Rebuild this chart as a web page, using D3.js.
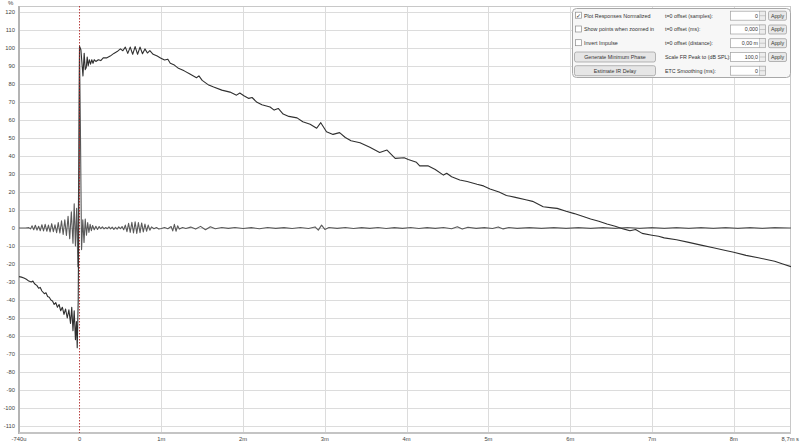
<!DOCTYPE html>
<html><head><meta charset="utf-8">
<script src="https://cdn.jsdelivr.net/npm/d3@7/dist/d3.min.js"></script>
<style>
html,body{margin:0;padding:0;background:#fff;}
svg{display:block;font-family:"Liberation Sans",Arial,sans-serif;}
</style></head><body>
<svg id="c" width="800" height="444"></svg>
<script>
// ---- data ----
const yTicks = [120,110,100,90,80,70,60,50,40,30,20,10,0,-10,-20,-30,-40,-50,-60,-70,-80,-90,-100,-110];
const xTickValues = [-0.74,0,1,2,3,4,5,6,7,8,8.7];
const xTickLabels = ["-740u","0","1m","2m","3m","4m","5m","6m","7m","8m","8,7m s"];

// ETC (dark) series: time in ms, level in %
const etcT = [-0.74,-0.71,-0.68,-0.65,-0.62,-0.59,-0.57,-0.55,-0.52,-0.50,-0.48,-0.46,-0.43,-0.41,-0.39,-0.37,-0.35,-0.33,-0.31,-0.29,-0.27,-0.25,-0.23,-0.21,-0.19,-0.17,-0.15,-0.13,-0.11,-0.095,-0.08,-0.065,-0.05,-0.038,-0.028,-0.016,-0.006,
0.0,0.017,0.042,0.057,0.07,0.082,0.094,0.106,0.12,0.135,0.15,0.165,0.18,0.20,0.23,0.26,0.29,0.33,0.375,0.42,0.46,0.50,0.53,0.56,0.59,0.62,0.65,0.68,0.71,0.74,0.77,0.80,0.83,0.86,0.90,0.95,0.99,
1.04,1.08,1.11,1.16,1.21,1.28,1.35,1.43,1.46,1.50,1.58,1.64,1.74,1.84,1.92,1.96,2.01,2.07,2.11,2.17,2.23,2.33,2.38,2.43,2.49,2.56,2.66,2.73,2.82,2.90,2.95,3.02,3.10,3.18,3.25,3.32,3.43,3.55,3.67,3.76,3.86,3.97,4.02,4.12,4.16,4.26,4.35,4.45,4.49,4.55,4.65,4.74,4.86,4.94,5.02,5.13,5.22,5.33,5.47,5.54,5.67,5.78,5.84,5.95,6.05,6.15,6.25,6.35,6.45,6.55,6.65,6.73,6.80,6.88,7.0,7.08,7.15,7.3,7.45,7.6,7.75,7.9,8.0,8.15,8.3,8.4,8.5,8.6,8.7];
const etcV = [-27,-27.3,-27.8,-28.5,-29.5,-30,-29.5,-31,-32,-33.5,-33,-35,-36.5,-36,-38,-38.5,-40,-40.5,-42.5,-41.5,-44,-42.5,-46,-44,-48,-45,-50,-45.5,-53,-44,-57,-46,-62,-52,-66.5,-40,30,
101,99,84.5,97,88,89,95,90,93.5,91,93.5,91.5,93.5,92.5,93.5,93,94.5,94.5,95.5,97,98,99.5,98.5,100.5,97,100.5,96.5,100.8,96.5,100.5,96.8,99.5,97.2,98.5,96.5,95.5,94.5,
93.3,93.8,91.5,90.5,88.7,87.3,85.5,83.5,84.5,82,79.4,78.3,76.6,75.5,73.8,75,73.5,72,72.5,69.8,68.5,67.2,65.5,66.4,63.3,62,61.2,59,57.6,55.4,58.5,53.5,52,53,50.3,48.5,47.4,44.8,42,43.3,38.7,39,38.1,36.5,34.5,34.6,32.5,29.4,30.4,28.5,26.7,25.8,24.3,23.4,21.7,20,18.1,17,15.6,14.8,11.8,11.2,10.9,9.3,8,6.5,5,3.8,2.2,1,-0.5,-1.5,-0.8,-3,-4,-4.6,-5.5,-6.5,-8,-9.5,-11,-12.5,-13.5,-15.2,-16.5,-17.5,-18.5,-20,-21.5];

// Impulse (grey) series: time in ms, amplitude in %
const impT = [-0.74,-0.70,-0.66,-0.62,-0.60,-0.58,-0.56,-0.54,-0.52,-0.50,-0.48,-0.46,-0.44,-0.42,-0.40,-0.38,-0.36,-0.34,-0.32,-0.30,-0.28,-0.26,-0.24,-0.22,-0.20,-0.18,-0.16,-0.14,-0.12,-0.10,-0.08,-0.065,-0.05,-0.035,-0.02,-0.008,
0.0,0.01,0.025,0.04,0.055,0.07,0.085,0.10,0.115,0.13,0.145,0.16,0.18,0.20,0.22,0.24,0.26,0.28,0.30,0.32,0.34,0.36,0.38,0.40,0.42,0.44,0.46,0.48,0.50,0.52,0.54,0.56,0.58,0.60,0.62,0.64,0.66,0.68,0.70,0.72,0.74,0.76,0.78,0.80,0.82,0.84,0.86,0.88,0.91,0.94,0.97,
1.00,1.04,1.08,1.12,1.14,1.16,1.18,1.20,1.22,1.26,1.30,1.36,1.42,1.48,1.54,1.60,1.66,1.74,1.82,1.90,2.0,2.1,2.2,2.3,2.4,2.5,2.6,2.7,2.8,2.88,2.92,2.96,3.0,3.05,3.15,3.25,3.35,3.45,3.55,3.65,3.75,3.85,3.95,4.05,4.15,4.25,4.35,4.45,4.55,4.62,4.68,4.75,4.85,4.95,5.05,5.12,5.18,5.25,5.35,5.5,5.65,5.8,5.95,6.1,6.25,6.4,6.55,6.7,6.85,7.0,7.15,7.3,7.45,7.6,7.75,7.9,8.05,8.2,8.35,8.5,8.7];
const impV = [0,0,0,0.2,-0.5,1.2,-1.0,1.5,-1.2,1.0,-1.5,1.8,-1.6,2.0,-1.8,1.6,-2.2,2.4,-2.0,1.8,-2.6,3.0,-2.8,4.0,-3.6,4.5,-4.2,6.5,-6.0,9.0,-8.5,13.5,-10,11,-21.5,40,
100,60,-12,4.5,-8,5,-4,3,-2.5,2,-1.5,1.4,-1,1,-0.8,0.8,-0.4,0.6,-0.5,0.3,-0.4,0.6,-0.5,0.5,-0.8,0.4,-0.6,0.6,-0.4,0.8,-1.0,1.6,-2.0,2.6,-2.4,3.2,-2.8,3.4,-3.0,3.0,-2.6,2.8,-2.2,2.2,-1.8,1.6,-1.2,0.6,-0.4,0.3,-0.6,
-0.3,0.3,-0.4,0.8,-1.6,2.0,-1.8,1.2,-0.6,0.3,-0.3,0.5,-0.6,0.9,-1.0,0.7,-0.4,0.3,-0.2,0.3,-0.3,0.2,-0.4,0.3,-0.2,0.2,-0.3,0.3,-0.3,0.6,-1.2,1.6,-0.8,0.3,-0.2,0.3,-0.3,0.2,-0.2,0.3,-0.3,0.2,-0.2,0.3,-0.3,0.2,-0.2,0.3,-0.4,0.7,-0.6,0.4,-0.2,0.2,-0.3,0.6,-0.5,0.3,-0.2,0.2,-0.2,0.2,-0.2,0.2,-0.2,0.2,-0.2,0.3,-0.2,0.2,-0.2,0.2,-0.2,0.2,-0.2,0.2,-0.2,0.2,-0.2,0.2,0];

// control panel texts
const checkLabels = ["Plot Responses Normalized","Show points when zoomed in","Invert Impulse"];
const checkStates = [true,false,false];
const buttonLabels = ["Generate Minimum Phase","Estimate IR Delay"];
const fieldLabels = ["t=0 offset (samples):","t=0 offset (ms):","t=0 offset (distance):","Scale FR Peak to (dB SPL):","ETC Smoothing (ms):"];
const fieldValues = ["0","0,000","0,00 m","100,0","0"];
const fieldHasApply = [true,true,true,true,false];

// ---- drawing ----
const svg = d3.select("#c");
const L=19,R=791,T=6,B=433;
const x = d3.scaleLinear().domain([-0.74,8.7]).range([L,R]);
const y = d3.scaleLinear().domain([-110,120]).range([426,12]);

svg.append("defs").append("clipPath").attr("id","clip")
  .append("rect").attr("x",L).attr("y",T).attr("width",R-L).attr("height",B-T);

const grid = svg.append("g");
grid.selectAll("line.h").data(yTicks).join("line")
  .attr("x1",L).attr("x2",R).attr("y1",d=>Math.round(y(d))+0.5).attr("y2",d=>Math.round(y(d))+0.5)
  .attr("stroke","#dcdcdc").attr("stroke-width",1);
grid.selectAll("line.v").data(xTickValues.filter(v=>v>0 && v<8.7)).join("line")
  .attr("y1",T).attr("y2",B).attr("x1",d=>Math.round(x(d))+0.5).attr("x2",d=>Math.round(x(d))+0.5)
  .attr("stroke","#dcdcdc").attr("stroke-width",1);

// frame
svg.append("rect").attr("x",L+0.5).attr("y",T+0.5).attr("width",R-L-1).attr("height",B-T-1)
  .attr("fill","none").attr("stroke","#c8c8c8");
svg.append("line").attr("x1",L).attr("x2",L).attr("y1",T).attr("y2",B+1).attr("stroke","#b4b4b4").attr("stroke-width",2);
svg.append("line").attr("x1",L).attr("x2",R).attr("y1",B).attr("y2",B).attr("stroke","#c4c4c4").attr("stroke-width",2);

// y labels
svg.append("g").selectAll("text").data(yTicks).join("text")
  .attr("x",15).attr("y",d=>y(d)+2).attr("text-anchor","end")
  .attr("font-size",5.8).attr("fill","#444").text(d=>d);
svg.append("text").attr("x",8).attr("y",5).attr("font-size",6).attr("fill","#444").text("%");

// x labels
svg.append("g").selectAll("text").data(xTickValues).join("text")
  .attr("x",(d,i)=> i===xTickValues.length-1 ? 799 : x(d))
  .attr("y",441)
  .attr("text-anchor",(d,i)=> i===xTickValues.length-1 ? "end" : "middle")
  .attr("font-size",5.8).attr("fill","#444").text((d,i)=>xTickLabels[i]);

// curves
const plot = svg.append("g").attr("clip-path","url(#clip)");
const line = d3.line().x(d=>x(d[0])).y(d=>y(d[1]));
const impData = impT.map((t,i)=>[t,impV[i]]);
const etcData = etcT.map((t,i)=>[t,etcV[i]]);
plot.append("path").datum(impData).attr("d",line).attr("fill","none")
  .attr("stroke","#5a5a5a").attr("stroke-width",1.1).attr("stroke-linejoin","round");
plot.append("path").datum(etcData).attr("d",line).attr("fill","none")
  .attr("stroke","#303030").attr("stroke-width",1.1).attr("stroke-linejoin","round");

// t=0 marker
svg.append("line").attr("x1",x(0)).attr("x2",x(0)).attr("y1",T).attr("y2",B)
  .attr("stroke","#b22a2a").attr("stroke-width",1).attr("stroke-dasharray","1.5,1.5").attr("opacity",0.9);

// control panel
const P = svg.append("g");
P.append("rect").attr("x",572.5).attr("y",8.5).attr("width",218).attr("height",69).attr("rx",4)
  .attr("fill","#f7f7f7").attr("stroke","#a8a8a8");
const rowY = [15.7,29.5,43.2,57,70.7];
checkLabels.forEach((lab,i)=>{
  const cy=rowY[i];
  P.append("rect").attr("x",575.5).attr("y",cy-3.5).attr("width",6).attr("height",6)
   .attr("fill","#fff").attr("stroke","#8c8c8c").attr("stroke-width",0.7);
  if(checkStates[i]) P.append("text").attr("x",576.2).attr("y",cy+2.2).attr("font-size",6).attr("fill","#333").text("✓");
  P.append("text").attr("x",584).attr("y",cy+1.8).attr("font-size",5.4).attr("fill","#333").text(lab);
});
buttonLabels.forEach((lab,i)=>{
  const cy=rowY[3+i];
  P.append("rect").attr("x",574.5).attr("y",cy-5).attr("width",81).attr("height",10).attr("rx",2)
   .attr("fill","#e6e6e6").attr("stroke","#9a9a9a").attr("stroke-width",0.7);
  P.append("text").attr("x",615).attr("y",cy+1.8).attr("text-anchor","middle").attr("font-size",5.3).attr("fill","#333").text(lab);
});
fieldLabels.forEach((lab,i)=>{
  const cy=rowY[i];
  P.append("text").attr("x",665).attr("y",cy+1.8).attr("font-size",5.3).attr("fill","#333").text(lab);
  P.append("rect").attr("x",730.5).attr("y",cy-4.5).attr("width",35).attr("height",9)
   .attr("fill","#fff").attr("stroke","#a0a0a0").attr("stroke-width",0.7);
  P.append("rect").attr("x",759.5).attr("y",cy-4.5).attr("width",6).attr("height",9)
   .attr("fill","#ececec").attr("stroke","#a0a0a0").attr("stroke-width",0.5);
  P.append("line").attr("x1",759.5).attr("x2",765.5).attr("y1",cy).attr("y2",cy).attr("stroke","#a0a0a0").attr("stroke-width",0.5);
  P.append("text").attr("x",758).attr("y",cy+1.8).attr("text-anchor","end").attr("font-size",5.3).attr("fill","#333").text(fieldValues[i]);
  if(fieldHasApply[i]){
    P.append("rect").attr("x",768.5).attr("y",cy-4.5).attr("width",18).attr("height",9).attr("rx",1.5)
     .attr("fill","#e8e8e8").attr("stroke","#9a9a9a").attr("stroke-width",0.7);
    P.append("text").attr("x",777.5).attr("y",cy+1.8).attr("text-anchor","middle").attr("font-size",5.3).attr("fill","#333").text("Apply");
  }
});
</script>
</body></html>
